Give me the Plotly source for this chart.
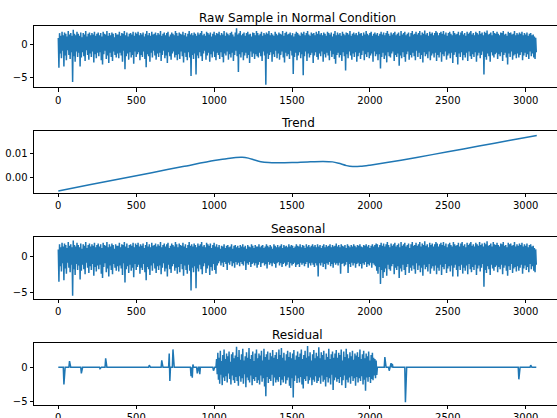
import plotly.graph_objects as go
from plotly.subplots import make_subplots

# Each series is stored as the high and low value of consecutive 8-sample bins
BIN = 8

raw_hi = [
    0.9, 1.6, 1.2, 1.8, 1.3, 1.7, 1.5, 1.1, 1.9, 1.4, 1.6, 1.2, 2.1, 1.5, 1.3, 1.8,
    1.5, 1.2, 1.7, 1.0, 1.6, 1.4, 1.9, 1.1, 1.5, 1.7, 1.3, 1.6, 1.4, 1.8, 1.2, 1.5,
    1.7, 1.3, 1.6, 1.1, 1.8, 1.5, 1.4, 1.9, 1.2, 1.6, 1.3, 1.7, 1.5, 1.0, 1.6, 1.4,
    1.4, 1.8, 1.2, 1.6, 1.5, 1.9, 1.3, 1.7, 1.1, 1.5, 1.6, 1.4, 1.8, 1.2, 1.7, 1.5,
    1.8, 1.3, 1.6, 1.4, 1.7, 1.1, 1.5, 1.9, 1.3, 1.6, 1.2, 1.8, 1.4, 1.5, 1.7, 1.3,
    1.6, 1.4, 1.9, 1.2, 1.5, 1.7, 1.3, 1.6, 1.8, 1.1, 1.4, 1.7, 1.5, 1.3, 1.9, 1.6,
    1.2, 1.7, 1.5, 1.4, 1.8, 1.3, 1.6, 1.1, 1.5, 1.9, 1.4, 1.6, 1.3, 1.7, 1.5, 1.2,
    1.7, 1.4, 1.6, 1.9, 1.3, 1.5, 1.2, 1.8, 1.6, 1.4, 1.7, 1.1, 1.5, 1.8, 1.3, 1.6,
    1.5, 1.8, 1.3, 1.6, 1.4, 1.9, 1.2, 1.7, 1.5, 1.3, 1.6, 1.8, 1.4, 1.1, 1.7, 2.3,
    1.4, 1.6, 1.9, 1.3, 1.5, 1.7, 1.2, 1.6, 1.8, 1.4, 1.5, 1.1, 1.7, 1.6, 1.3, 1.9,
    1.6, 1.3, 1.5, 1.8, 1.2, 1.6, 1.4, 1.7, 1.5, 1.9, 1.3, 1.6, 1.4, 1.2, 1.8, 1.5,
    1.3, 1.7, 1.5, 1.4, 1.9, 1.2, 1.6, 1.8, 1.4, 1.5, 1.7, 1.3, 1.6, 1.1, 1.5, 1.8,
    1.6, 1.4, 1.2, 1.7, 1.5, 1.8, 1.3, 1.6, 1.9, 1.4, 1.2, 1.7, 1.5, 1.6, 1.3, 1.8,
    1.5, 1.9, 1.4, 1.6, 1.3, 1.7, 1.5, 1.2, 1.8, 1.6, 1.4, 1.7, 1.1, 1.5, 1.9, 1.3,
    1.7, 1.4, 1.6, 1.2, 1.8, 1.5, 1.3, 1.7, 1.6, 1.4, 1.9, 1.2, 1.5, 1.7, 1.4, 1.6,
    1.3, 1.8, 1.5, 1.6, 1.2, 1.7, 1.4, 1.9, 1.5, 1.3, 1.6, 1.8, 1.2, 1.5, 1.7, 1.4,
    1.6, 1.2, 1.5, 1.8, 1.4, 1.7, 1.3, 1.6, 1.9, 1.5, 1.2, 1.7, 1.4, 1.6, 1.8, 1.3,
    1.5, 1.7, 1.2, 1.9, 1.4, 1.6, 1.8, 1.3, 1.5, 1.7, 1.1, 1.6, 1.9, 1.4, 1.5, 1.8,
    1.4, 1.6, 1.9, 1.3, 1.7, 1.5, 2.0, 1.4, 1.6, 1.2, 1.8, 1.5, 1.7, 1.3, 1.6, 1.9,
    1.7, 1.3, 1.6, 1.8, 1.5, 1.9, 1.4, 1.7, 1.2, 1.6, 1.8, 1.5, 1.3, 1.9, 1.6, 1.4,
    1.5, 1.8, 1.3, 1.7, 1.9, 1.4, 1.6, 1.2, 1.8, 1.5, 1.7, 1.9, 1.4, 1.6, 1.3, 1.8,
    1.6, 1.4, 1.9, 1.5, 1.7, 1.3, 1.8, 1.6, 2.0, 1.4, 1.5, 1.7, 1.3, 1.9, 1.6, 1.5,
    1.8, 1.5, 1.3, 1.7, 1.6, 1.9, 1.4, 1.5, 1.2, 1.8, 1.6, 1.7, 1.4, 1.5, 1.9, 1.3,
    1.6, 1.4, 1.7, 1.5, 1.8, 1.3, 1.6, 1.4, 1.7, 1.2, 1.5, 1.6, 1.3, 1.4, 1.1, 0.9,
]

raw_lo = [
    -3.5, -1.4, -2.1, -1.0, -3.3, -1.7, -2.4, -0.9, -1.6, -2.2, -1.2, -5.6, -1.8, -2.6, -1.1, -1.9,
    -1.3, -3.3, -2.0, -1.2, -1.8, -2.5, -0.9, -1.6, -2.3, -1.4, -1.9, -1.1, -2.7, -1.5, -2.1, -1.3,
    -1.8, -1.2, -2.4, -3.0, -1.5, -1.0, -2.2, -1.7, -2.8, -1.3, -1.9, -2.5, -1.1, -1.6, -2.0, -1.4,
    -2.1, -1.3, -1.7, -2.6, -1.0, -3.7, -1.8, -1.4, -2.3, -1.2, -2.0, -1.6, -2.9, -1.1, -1.9, -1.5,
    -1.2, -2.4, -1.6, -1.9, -1.1, -2.2, -3.4, -1.5, -1.8, -2.6, -1.3, -2.0, -1.0, -1.7, -2.3, -1.4,
    -1.9, -1.3, -2.5, -1.6, -1.0, -2.1, -1.7, -2.8, -1.2, -1.8, -2.3, -1.4, -1.1, -2.0, -1.6, -2.4,
    -1.5, -2.2, -1.1, -1.8, -2.7, -1.3, -1.9, -2.4, -1.2, -2.0, -4.7, -1.6, -2.2, -1.4, -4.5, -1.7,
    -2.1, -1.2, -1.8, -2.5, -1.4, -1.0, -2.3, -1.7, -1.3, -2.6, -1.5, -2.0, -1.1, -1.9, -2.4, -1.3,
    -1.6, -2.2, -1.2, -1.9, -2.7, -1.4, -1.7, -1.1, -2.3, -1.5, -2.0, -1.3, -2.5, -1.6, -1.0, -1.8,
    -4.1, -1.5, -2.0, -1.2, -2.4, -1.7, -1.3, -2.1, -1.6, -2.8, -1.1, -1.9, -1.4, -2.2, -1.5, -1.8,
    -2.0, -1.3, -1.8, -2.5, -1.1, -1.7, -6.0, -1.4, -2.2, -1.6, -1.2, -2.6, -1.5, -1.9, -1.0, -2.1,
    -1.4, -2.3, -1.6, -1.1, -2.0, -2.7, -1.3, -1.8, -1.5, -2.2, -1.0, -1.7, -4.4, -1.9, -1.3, -2.4,
    -1.7, -1.2, -2.1, -1.5, -4.6, -1.8, -1.1, -2.5, -1.4, -2.0, -1.6, -1.3, -2.8, -1.7, -1.2, -1.9,
    -2.3, -1.4, -1.8, -1.1, -2.6, -1.5, -2.0, -1.3, -1.7, -2.4, -1.0, -1.9, -1.5, -2.2, -2.9, -1.6,
    -1.3, -2.0, -1.6, -2.5, -1.2, -1.8, -3.9, -1.5, -2.1, -1.1, -1.7, -2.3, -1.4, -1.9, -1.2, -2.6,
    -1.8, -1.3, -2.2, -1.6, -1.0, -2.4, -1.5, -1.9, -1.2, -2.1, -1.7, -1.4, -2.6, -1.1, -1.8, -1.5,
    -2.4, -1.5, -3.6, -1.9, -1.3, -2.2, -1.7, -2.7, -1.2, -1.8, -2.0, -1.4, -1.1, -2.5, -1.6, -1.9,
    -1.4, -3.2, -1.7, -2.1, -1.2, -1.9, -2.6, -1.5, -1.1, -2.3, -1.6, -2.0, -1.3, -1.8, -2.4, -1.0,
    -1.9, -1.3, -2.2, -1.6, -2.7, -1.2, -1.8, -1.5, -2.1, -1.1, -2.4, -1.7, -1.4, -2.0, -1.3, -2.5,
    -1.6, -2.0, -1.2, -2.6, -1.5, -1.8, -1.1, -2.3, -1.7, -1.4, -2.1, -1.3, -2.8, -1.6, -1.2, -1.9,
    -3.0, -1.4, -1.9, -1.2, -2.4, -1.6, -2.0, -1.3, -2.5, -1.1, -1.8, -2.2, -1.5, -1.9, -1.2, -2.6,
    -1.7, -1.3, -2.1, -1.6, -1.1, -4.5, -1.9, -2.3, -1.4, -1.8, -2.6, -1.2, -1.7, -2.0, -1.5, -1.3,
    -2.2, -1.5, -1.8, -1.2, -2.5, -1.6, -1.3, -2.0, -3.0, -1.4, -1.9, -1.1, -2.3, -1.7, -1.5, -2.1,
    -1.4, -2.0, -1.6, -1.2, -2.4, -1.7, -1.3, -1.9, -1.5, -2.2, -1.1, -1.8, -1.4, -2.0, -2.2, -1.2,
]

seasonal_hi = [
    0.9, 1.6, 1.2, 1.8, 1.3, 1.7, 1.5, 1.1, 1.9, 1.4, 1.6, 1.2, 2.1, 1.5, 1.3, 1.8,
    1.5, 1.2, 1.7, 1.0, 1.6, 1.4, 1.9, 1.1, 1.5, 1.7, 1.3, 1.6, 1.4, 1.8, 1.2, 1.5,
    1.7, 1.3, 1.6, 1.1, 1.8, 1.5, 1.4, 1.9, 1.2, 1.6, 1.3, 1.7, 1.5, 1.0, 1.6, 1.4,
    1.4, 1.8, 1.2, 1.6, 1.5, 1.9, 1.3, 1.7, 1.1, 1.5, 1.6, 1.4, 1.8, 1.2, 1.7, 1.5,
    1.8, 1.3, 1.6, 1.4, 1.7, 1.1, 1.5, 1.9, 1.3, 1.6, 1.2, 1.8, 1.4, 1.5, 1.7, 1.3,
    1.6, 1.4, 1.9, 1.2, 1.5, 1.7, 1.3, 1.6, 1.8, 1.1, 1.4, 1.7, 1.5, 1.3, 1.9, 1.6,
    1.2, 1.7, 1.5, 1.4, 1.8, 1.3, 1.6, 1.1, 1.5, 1.9, 1.4, 1.6, 1.3, 1.7, 1.5, 1.2,
    1.7, 1.4, 1.6, 1.9, 1.3, 1.5, 1.2, 1.8, 1.6, 1.4, 1.7, 1.1, 1.5, 1.8, 1.3, 1.6,
    1.2, 1.5, 1.0, 1.4, 1.3, 1.6, 1.1, 1.4, 1.5, 1.2, 1.3, 1.6, 1.0, 1.4, 1.5, 1.2,
    1.4, 1.1, 1.5, 1.3, 1.6, 1.2, 1.4, 1.0, 1.5, 1.3, 1.2, 1.6, 1.4, 1.1, 1.5, 1.3,
    1.3, 1.6, 1.2, 1.4, 1.5, 1.1, 1.3, 1.6, 1.4, 1.2, 1.5, 1.3, 1.0, 1.6, 1.4, 1.2,
    1.5, 1.2, 1.4, 1.6, 1.1, 1.5, 1.3, 1.4, 1.2, 1.6, 1.3, 1.5, 1.4, 1.1, 1.3, 1.6,
    1.4, 1.3, 1.6, 1.2, 1.5, 1.4, 1.1, 1.6, 1.3, 1.5, 1.2, 1.4, 1.6, 1.3, 1.5, 1.2,
    1.6, 1.3, 1.5, 1.1, 1.4, 1.6, 1.2, 1.5, 1.3, 1.4, 1.6, 1.2, 1.5, 1.3, 1.4, 1.7,
    1.3, 1.5, 1.2, 1.6, 1.4, 1.3, 1.5, 1.1, 1.6, 1.4, 1.2, 1.5, 1.3, 1.6, 1.4, 1.2,
    1.5, 1.4, 1.6, 1.3, 1.2, 1.5, 1.4, 1.6, 1.3, 1.5, 1.1, 1.4, 1.6, 1.3, 1.5, 1.7,
    1.6, 1.2, 1.5, 1.8, 1.4, 1.7, 1.3, 1.6, 1.9, 1.5, 1.2, 1.7, 1.4, 1.6, 1.8, 1.3,
    1.5, 1.7, 1.2, 1.9, 1.4, 1.6, 1.8, 1.3, 1.5, 1.7, 1.1, 1.6, 1.9, 1.4, 1.5, 1.8,
    1.4, 1.6, 1.9, 1.3, 1.7, 1.5, 2.0, 1.4, 1.6, 1.2, 1.8, 1.5, 1.7, 1.3, 1.6, 1.9,
    1.7, 1.3, 1.6, 1.8, 1.5, 1.9, 1.4, 1.7, 1.2, 1.6, 1.8, 1.5, 1.3, 1.9, 1.6, 1.4,
    1.5, 1.8, 1.3, 1.7, 1.9, 1.4, 1.6, 1.2, 1.8, 1.5, 1.7, 1.9, 1.4, 1.6, 1.3, 1.8,
    1.6, 1.4, 1.9, 1.5, 1.7, 1.3, 1.8, 1.6, 2.0, 1.4, 1.5, 1.7, 1.3, 1.9, 1.6, 1.5,
    1.8, 1.5, 1.3, 1.7, 1.6, 1.9, 1.4, 1.5, 1.2, 1.8, 1.6, 1.7, 1.4, 1.5, 1.9, 1.3,
    1.6, 1.4, 1.7, 1.5, 1.8, 1.3, 1.6, 1.4, 1.7, 1.2, 1.5, 1.6, 1.3, 1.4, 1.1, 0.9,
]

seasonal_lo = [
    -3.5, -1.4, -2.1, -1.0, -3.3, -1.7, -2.4, -0.9, -1.6, -2.2, -1.2, -5.4, -1.8, -2.6, -1.1, -1.9,
    -1.3, -3.2, -2.0, -1.2, -1.8, -2.5, -0.9, -1.6, -2.3, -1.4, -1.9, -1.1, -2.7, -1.5, -2.1, -1.3,
    -1.8, -1.2, -2.4, -3.0, -1.5, -1.0, -2.2, -1.7, -2.8, -1.3, -1.9, -2.5, -1.1, -1.6, -2.0, -1.4,
    -2.1, -1.3, -1.7, -2.6, -1.0, -3.6, -1.8, -1.4, -2.3, -1.2, -2.0, -1.6, -2.9, -1.1, -1.9, -1.5,
    -1.2, -2.4, -1.6, -1.9, -1.1, -2.2, -3.3, -1.5, -1.8, -2.6, -1.3, -2.0, -1.0, -1.7, -2.3, -1.4,
    -1.9, -1.3, -2.5, -1.6, -1.0, -2.1, -1.7, -2.8, -1.2, -1.8, -2.3, -1.4, -1.1, -2.0, -1.6, -2.4,
    -1.5, -2.2, -1.1, -1.8, -2.7, -1.3, -1.9, -2.4, -1.2, -2.0, -4.7, -1.6, -2.2, -1.4, -4.4, -1.7,
    -2.1, -1.2, -1.8, -2.5, -1.4, -1.0, -2.3, -1.7, -1.3, -2.6, -1.5, -2.0, -1.1, -1.9, -2.4, -1.3,
    -1.0, -0.7, -1.3, -0.9, -1.5, -0.8, -1.1, -1.9, -0.9, -1.2, -0.7, -1.4, -1.0, -1.6, -0.8, -1.2,
    -0.9, -1.4, -0.8, -1.1, -1.3, -0.7, -1.9, -1.0, -1.2, -0.8, -1.5, -1.1, -0.9, -1.3, -1.0, -1.6,
    -1.2, -0.8, -1.5, -1.0, -0.9, -1.3, -1.1, -1.7, -0.8, -1.2, -1.0, -1.4, -0.9, -1.1, -1.6, -1.0,
    -0.8, -1.3, -1.0, -1.5, -1.1, -0.9, -1.4, -1.2, -0.8, -1.6, -1.0, -1.3, -1.1, -0.9, -1.5, -1.2,
    -1.1, -1.5, -0.9, -1.2, -1.0, -1.4, -1.1, -0.8, -1.6, -1.0, -1.3, -0.9, -1.2, -1.5, -1.0, -1.3,
    -2.8, -1.0, -1.3, -0.9, -1.5, -1.1, -1.8, -1.0, -1.2, -0.8, -1.4, -1.1, -1.6, -0.9, -1.2, -1.0,
    -1.3, -0.9, -2.4, -1.1, -1.0, -1.4, -1.2, -0.8, -2.3, -1.1, -1.5, -0.9, -1.3, -1.0, -1.6, -1.1,
    -0.9, -1.4, -1.1, -1.7, -1.0, -1.2, -0.8, -1.5, -1.1, -1.3, -0.9, -1.6, -1.0, -1.2, -1.4, -2.0,
    -2.4, -1.5, -3.8, -1.9, -3.0, -2.2, -1.7, -2.7, -1.2, -1.8, -2.0, -1.4, -1.1, -2.5, -1.6, -1.9,
    -1.4, -3.0, -1.7, -2.1, -1.2, -1.9, -2.6, -1.5, -1.1, -2.3, -1.6, -2.0, -1.3, -1.8, -2.4, -1.0,
    -1.9, -1.3, -2.2, -1.6, -2.7, -1.2, -1.8, -1.5, -2.1, -1.1, -2.4, -1.7, -1.4, -2.0, -1.3, -2.5,
    -1.6, -2.0, -1.2, -2.6, -1.5, -1.8, -1.1, -2.3, -1.7, -1.4, -2.1, -1.3, -2.8, -1.6, -1.2, -1.9,
    -2.8, -1.4, -1.9, -1.2, -2.4, -1.6, -2.0, -1.3, -2.5, -1.1, -1.8, -2.2, -1.5, -1.9, -1.2, -2.6,
    -1.7, -1.3, -2.1, -1.6, -1.1, -4.2, -1.9, -2.3, -1.4, -1.8, -2.6, -1.2, -1.7, -2.0, -1.5, -1.3,
    -2.2, -1.5, -1.8, -1.2, -2.5, -1.6, -1.3, -2.0, -2.7, -1.4, -1.9, -1.1, -2.3, -1.7, -1.5, -2.1,
    -1.4, -2.0, -1.6, -1.2, -2.4, -1.7, -1.3, -1.9, -1.5, -2.2, -1.1, -1.8, -1.4, -2.0, -2.2, -1.2,
]

residual_hi = [
    0, 0, 0, 0, 0, 0, 0, 0, 0, 0.9, 0, 0, 0, 0, 0, 0,
    0, 0, 0, 0, 0, 0, 0, 0, 0, 0, 0, 0, 0, 0, 0, 0,
    0, 0, 0, 0, 0, 0, 1.3, 0, 0, 0, 0, 0, 0, 0, 0, 0,
    0, 0, 0, 0, 0, 0, 0, 0, 0, 0, 0, 0, 0, 0, 0, 0,
    0, 0, 0, 0, 0, 0, 0, 0, 0, 0.3, 0, 0, 0, 0, 0, 0,
    0, 0, 0, 1.0, 0, 0, 0, 0, 0, 2.0, 0, 0, 2.6, 0, 0, 0,
    0, 0, 0, 0, 0, 0, 0, 0, 0, 0, 0, 0, 0.4, 0, 0, 0,
    0, 0, 0, 0, 0, 0, 0, 0, 0, 0, 0, 0, 0, 0, 0, 1.2,
    2.1, 1.4, 2.4, 0.9, 1.8, 2.6, 1.2, 2.0, 1.6, 2.3, 0.8, 1.9, 2.2, 1.3, 1.7, 3.0,
    1.5, 2.5, 1.1, 1.9, 2.7, 1.0, 1.6, 2.2, 1.4, 2.8, 1.2, 1.8, 2.3, 0.9, 2.0, 2.6,
    1.3, 2.0, 1.7, 2.4, 1.0, 2.7, 1.5, 1.9, 2.3, 1.1, 2.1, 1.6, 2.5, 1.4, 1.8, 2.2,
    1.2, 2.6, 1.8, 2.8, 1.4, 2.1, 1.0, 1.9, 2.4, 1.5, 2.2, 1.3, 2.0, 2.5, 1.1, 1.7,
    2.3, 1.5, 2.0, 2.6, 1.2, 1.8, 2.4, 1.4, 3.1, 1.6, 2.2, 1.0, 1.9, 2.5, 1.3, 2.1,
    1.6, 2.9, 1.3, 2.2, 1.8, 2.4, 1.1, 2.0, 1.5, 2.7, 1.2, 1.9, 2.3, 1.4, 2.0, 2.5,
    1.4, 2.1, 1.8, 2.6, 1.0, 2.3, 1.5, 2.7, 1.9, 1.3, 2.2, 1.6, 2.4, 1.1, 2.0, 1.7,
    2.2, 1.5, 2.6, 1.2, 1.9, 2.4, 1.3, 2.0, 1.6, 2.3, 1.0, 1.8, 2.1, 1.4, 1.2, 1.0,
    0, 0, 0, 0, 0, 0, 1.5, 0, 0, 0, 0, 0.6, 0.5, 0, 0, 0,
    0, 0, 0, 0, 0, 0, 0, 0, 0, 0, 0, 0, 0, 0, 0, 0,
    0, 0, 0, 0, 0, 0, 0, 0, 0, 0, 0, 0, 0, 0, 0, 0,
    0, 0, 0, 0, 0, 0, 0, 0, 0, 0, 0, 0, 0, 0, 0, 0,
    0, 0, 0, 0, 0, 0, 0, 0, 0, 0, 0, 0, 0, 0, 0, 0,
    0, 0, 0, 0, 0, 0, 0, 0, 0, 0, 0, 0, 0, 0, 0, 0,
    0, 0, 0, 0, 0, 0, 0, 0, 0, 0, 0, 0, 0, 0, 0, 0,
    0, 0, 0, 0, 0, 0, 0, 0, 0, 0, 0, 0.3, 0, 0, 0, 0,
]

residual_lo = [
    0, 0, 0, 0, -2.5, 0, 0, 0, 0, 0, 0, 0, 0, 0, 0, 0,
    0, 0, -0.9, 0, 0, 0, 0, 0, 0, 0, 0, 0, 0, 0, 0, 0,
    0, -0.2, 0, 0, 0, 0, 0, 0, 0, 0, 0, 0, 0, 0, 0, 0,
    0, 0, 0, 0, 0, 0, 0, 0, 0, 0, 0, 0, 0, 0, 0, 0,
    0, 0, 0, 0, 0, 0, 0, 0, 0, 0, 0, 0, 0, 0, 0, 0,
    0, 0, 0, 0, 0, 0, 0, 0, 0, -2.0, 0, 0, 0, 0, 0, 0,
    0, 0, 0, 0, 0, 0, 0, 0, 0, 0, -1.3, -1.5, 0, 0, 0, -0.9,
    0, -1.0, 0, 0, 0, 0, 0, 0, 0, 0, 0, 0, -0.5, 0, 0, -1.0,
    -1.8, -2.4, -1.1, -2.6, -1.5, -2.0, -1.3, -2.2, -0.9, -1.7, -2.5, -1.2, -1.9, -2.3, -1.4, -2.0,
    -2.7, -1.3, -2.1, -1.6, -2.4, -1.0, -2.9, -1.5, -1.9, -2.2, -1.2, -2.6, -1.7, -2.0, -1.4, -2.3,
    -1.9, -2.5, -1.2, -2.1, -1.6, -2.8, -4.2, -1.4, -2.3, -1.7, -2.0, -1.1, -2.7, -1.5, -2.2, -1.8,
    -2.1, -1.4, -2.6, -1.8, -2.2, -1.3, -2.4, -1.9, -1.5, -2.7, -3.0, -1.6, -4.4, -2.0, -1.2, -2.3,
    -1.6, -2.2, -1.4, -2.5, -3.1, -1.7, -2.0, -1.3, -2.4, -1.9, -1.5, -2.6, -1.8, -2.1, -1.3, -2.3,
    -2.0, -1.5, -2.4, -1.2, -2.1, -1.8, -2.8, -1.4, -2.2, -1.6, -2.5, -1.1, -3.3, -1.9, -1.5, -2.1,
    -1.7, -2.3, -1.4, -2.6, -1.9, -1.2, -3.0, -1.8, -2.2, -1.5, -2.4, -1.3, -2.0, -1.6, -2.7, -1.4,
    -2.2, -1.6, -2.0, -1.3, -2.5, -1.8, -3.4, -1.5, -2.1, -1.4, -2.3, -1.7, -1.9, -1.2, -1.6, -1.1,
    0, 0, 0, 0, 0, 0, 0, 0, 0, -0.5, 0, 0, 0, 0, 0, 0,
    0, 0, 0, 0, 0, 0, -5.1, 0, 0, 0, 0, 0, 0, 0, 0, 0,
    0, 0, 0, 0, 0, 0, 0, 0, 0, 0, 0, 0, 0, 0, 0, 0,
    0, 0, 0, 0, 0, 0, 0, 0, 0, 0, 0, 0, 0, 0, 0, 0,
    0, 0, 0, 0, 0, 0, 0, 0, 0, 0, 0, 0, 0, 0, 0, 0,
    0, 0, 0, 0, 0, 0, 0, 0, 0, 0, 0, 0, 0, 0, 0, 0,
    0, 0, 0, 0, 0, 0, 0, 0, 0, 0, 0, 0, 0, 0, 0, 0,
    0, -1.75, 0, 0, 0, 0, 0, 0, 0, 0, 0, 0, 0, 0, 0, 0,
]

# Smooth trend component read at irregular sample positions
trend_x = [0, 200, 400, 600, 800, 1000, 1080, 1140, 1180, 1220, 1260, 1300, 1350,
           1400, 1500, 1600, 1700, 1760, 1800, 1850, 1890, 1940, 2000, 2200, 2400,
           2600, 2800, 3000, 3071]
trend_y = [-0.0058, -0.0032, -0.0006, 0.0020, 0.0046, 0.0072, 0.0079, 0.0085, 0.0086,
           0.0082, 0.0074, 0.0067, 0.0063, 0.0062, 0.0063, 0.0066, 0.0068, 0.0066,
           0.0060, 0.0050, 0.0046, 0.0047, 0.0052, 0.0073, 0.0097, 0.0121, 0.0146,
           0.0170, 0.0179]

titles = ["Raw Sample in Normal Condition", "Trend", "Seasonal", "Residual"]
x_ticks = [0, 500, 1000, 1500, 2000, 2500, 3000]


def bins_to_line(hi, lo):
    """Lay out per-bin high/low values as one continuous trace."""
    xs, ys = [], []
    for i, (h, l) in enumerate(zip(hi, lo)):
        xs += [BIN * i, BIN * i + BIN // 2]
        ys += [h, l]
    return xs, ys


LINE = "#1f77b4"
FONT = "DejaVu Sans"
W, H = 557, 418
LEFT = 34

# vertical extents of each panel in pixels (top, bottom)
panels_px = [(26, 87.3), (131, 193), (237.3, 298.7), (343.3, 405)]
y_ranges = [(-6.37, 2.65), (-0.0067, 0.0198), (-5.82, 2.55), (-5.49, 3.49)]
y_ticks = [[-5, 0], [0.0, 0.01], [-5, 0], [-5, 0]]
y_fmt = ["d", ".2f", "d", "d"]

fig = make_subplots(rows=4, cols=1)

series = [
    bins_to_line(raw_hi, raw_lo),
    (trend_x, trend_y),
    bins_to_line(seasonal_hi, seasonal_lo),
    bins_to_line(residual_hi, residual_lo),
]
for i, (xs, ys) in enumerate(series):
    kw = {}
    if i == 1:
        kw = dict(shape="spline", smoothing=0.8)
    fig.add_trace(
        go.Scatter(x=xs, y=ys, mode="lines",
                   line=dict(color=LINE, width=1.5, **kw),
                   hoverinfo="skip", showlegend=False),
        row=i + 1, col=1,
    )

x_range = [(LEFT - 58.3) / 0.1558, (W - 58.3) / 0.1558]

axis_common = dict(
    showgrid=False, zeroline=False, showline=True, linecolor="#000000",
    linewidth=0.8, ticks="outside", ticklen=3.5, tickwidth=0.8,
    tickcolor="#000000", tickfont=dict(family=FONT, size=10, color="#000000"),
    automargin=False,
)

for i, (top, bot) in enumerate(panels_px):
    dom = [1 - bot / H, 1 - top / H]
    xa = "xaxis" if i == 0 else f"xaxis{i + 1}"
    ya = "yaxis" if i == 0 else f"yaxis{i + 1}"
    fig.layout[xa].update(range=x_range, tickvals=x_ticks, mirror=True, **axis_common)
    fig.layout[ya].update(domain=dom, range=list(y_ranges[i]), tickvals=y_ticks[i],
                          tickformat=y_fmt[i], **axis_common)
    fig.add_annotation(
        text=titles[i], xref="paper", yref="paper",
        x=(297.5 - LEFT) / (W - LEFT), y=dom[1], xanchor="center", yanchor="bottom",
        yshift=-1, showarrow=False,
        font=dict(family=FONT, size=12, color="#000000"),
    )

fig.update_layout(
    width=W, height=H,
    margin=dict(l=LEFT, r=0, t=0, b=0, pad=0),
    paper_bgcolor="white", plot_bgcolor="white",
    showlegend=False,
)

fig.write_html("out.html")
